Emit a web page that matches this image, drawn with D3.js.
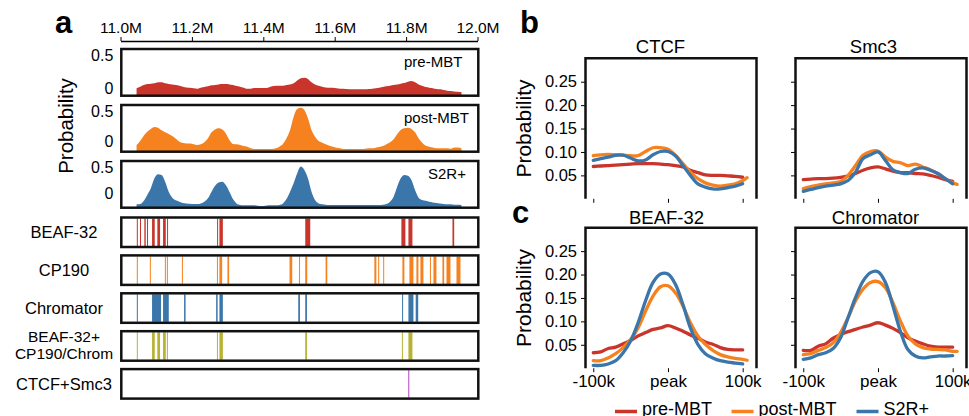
<!DOCTYPE html>
<html>
<head>
<meta charset="utf-8">
<script src="https://cdn.jsdelivr.net/npm/d3@7"></script>
<style>
  body { margin: 0; background: #fff; }
  svg { display: block; font-family: "Liberation Sans", Arial, Helvetica, sans-serif; }
</style>
</head>
<body>
<div class="display"></div>
<script>
// ---- data: panel a coverage (probability per 10 kb bin, first bin centre 11.045 Mb) ----
const binStart = 11.045;
const binStep = 0.01;
const preMBT = [0.079, 0.096, 0.114, 0.125, 0.129, 0.132, 0.143, 0.143, 0.132, 0.125, 0.121, 0.114, 0.107, 0.096, 0.089, 0.086, 0.079, 0.075, 0.086, 0.093, 0.100, 0.111, 0.114, 0.121, 0.125, 0.125, 0.121, 0.114, 0.104, 0.096, 0.086, 0.075, 0.075, 0.082, 0.082, 0.082, 0.082, 0.089, 0.100, 0.107, 0.107, 0.107, 0.114, 0.121, 0.132, 0.164,
  0.186, 0.193, 0.179, 0.143, 0.121, 0.107, 0.096, 0.089, 0.086, 0.086, 0.079, 0.075, 0.075, 0.071, 0.068, 0.068, 0.068, 0.068, 0.068, 0.071, 0.075, 0.079, 0.086, 0.093, 0.100, 0.107, 0.114, 0.121, 0.129, 0.136, 0.150, 0.157, 0.143, 0.121, 0.107, 0.093, 0.086, 0.079, 0.071, 0.068, 0.061, 0.054, 0.050, 0.046, 0.043, 0.039];
const postMBT = [0.071, 0.114, 0.171, 0.214, 0.243, 0.264, 0.257, 0.229, 0.207, 0.189, 0.168, 0.139, 0.107, 0.093, 0.089, 0.089, 0.079, 0.071, 0.079, 0.100, 0.143, 0.207, 0.239, 0.250, 0.239, 0.196, 0.125, 0.082, 0.079, 0.071, 0.061, 0.054, 0.036, 0.029, 0.029, 0.029, 0.029, 0.029, 0.029, 0.036, 0.054, 0.082, 0.143, 0.232, 0.375, 0.457,
  0.471, 0.446, 0.357, 0.232, 0.161, 0.114, 0.096, 0.079, 0.064, 0.054, 0.043, 0.036, 0.029, 0.029, 0.029, 0.029, 0.029, 0.029, 0.032, 0.036, 0.036, 0.043, 0.050, 0.061, 0.079, 0.100, 0.132, 0.186, 0.232, 0.250, 0.257, 0.243, 0.207, 0.143, 0.096, 0.064, 0.054, 0.046, 0.036, 0.036, 0.036, 0.036, 0.032, 0.046, 0.046, 0.036];
const s2rPlus = [0.036, 0.039, 0.071, 0.136, 0.207, 0.314, 0.357, 0.350, 0.279, 0.171, 0.107, 0.079, 0.064, 0.050, 0.046, 0.043, 0.039, 0.039, 0.046, 0.064, 0.100, 0.171, 0.236, 0.271, 0.279, 0.243, 0.171, 0.093, 0.046, 0.029, 0.025, 0.025, 0.025, 0.025, 0.021, 0.018, 0.021, 0.025, 0.025, 0.025, 0.029, 0.046, 0.093, 0.171, 0.261, 0.368,
  0.440, 0.404, 0.314, 0.171, 0.082, 0.046, 0.036, 0.032, 0.029, 0.029, 0.029, 0.029, 0.029, 0.029, 0.029, 0.029, 0.029, 0.029, 0.029, 0.029, 0.029, 0.029, 0.029, 0.032, 0.039, 0.064, 0.118, 0.225, 0.314, 0.350, 0.343, 0.296, 0.189, 0.107, 0.082, 0.075, 0.064, 0.057, 0.050, 0.046, 0.039, 0.036, 0.036, 0.032, 0.032, 0.029];
const genomeTicks = [11.0, 11.2, 11.4, 11.6, 11.8, 12.0];

// ---- data: panel a binding peaks [start, end] in Mb ----
const beafPeaks = [[11.0457, 11.0485], [11.0546, 11.0574], [11.0668, 11.0707], [11.0743, 11.0771], [11.0884, 11.0959], [11.1032, 11.1108], [11.1192, 11.1268], [11.1304, 11.1332], [11.2706, 11.2734], [11.2771, 11.2867], [11.5175, 11.5315], [11.7868, 11.7980], [11.8065, 11.8177], [11.9299, 11.9347]];
const cp190Peaks = [[11.0457, 11.0485], [11.0822, 11.0850], [11.1243, 11.1271], [11.1299, 11.1327], [11.1720, 11.1748], [11.2701, 11.2729], [11.2771, 11.2847], [11.2996, 11.3043], [11.4735, 11.4811], [11.5001, 11.5029], [11.5175, 11.5231], [11.5745, 11.5792], [11.7111, 11.7167], [11.7218, 11.7246], [11.7358, 11.7386], [11.7896, 11.7952], [11.8093, 11.8205], [11.8289, 11.8345], [11.8401, 11.8485], [11.8668, 11.8696], [11.8766, 11.8850], [11.9018, 11.9066], [11.9131, 11.9243], [11.9411, 11.9523]];
const chromatorPeaks = [[11.0457, 11.0485], [11.0884, 11.1136], [11.1192, 11.1352], [11.1781, 11.1823], [11.2679, 11.2721], [11.2771, 11.2867], [11.4979, 11.5027], [11.5175, 11.5223], [11.7888, 11.7916], [11.8065, 11.8205], [11.8269, 11.8339]];
const comboPeaks = [[11.0457, 11.0485], [11.0884, 11.0959], [11.1032, 11.1108], [11.1192, 11.1268], [11.1299, 11.1327], [11.2701, 11.2729], [11.2771, 11.2867], [11.5175, 11.5223], [11.7882, 11.7910], [11.8065, 11.8177]];
const ctcfSmc3Peaks = [[11.8061, 11.8083]];

// ---- data: panels b, c aggregate profiles around peaks (kb) ----
const profileX = [-100, -90, -80, -70, -60, -50, -40, -30, -20, -10, 0, 10, 20, 30, 40, 50, 60, 70, 80, 90, 100, 106];
const ctcfPre  = [0.069, 0.070, 0.071, 0.072, 0.073, 0.074, 0.075, 0.075, 0.075, 0.074, 0.073, 0.071, 0.068, 0.061, 0.056, 0.051, 0.050, 0.050, 0.049, 0.048, 0.046, null];
const ctcfPost = [0.092, 0.094, 0.095, 0.094, 0.093, 0.092, 0.092, 0.101, 0.109, 0.109, 0.106, 0.093, 0.075, 0.057, 0.043, 0.034, 0.029, 0.027, 0.029, 0.032, 0.039, 0.045];
const ctcfS2r  = [0.082, 0.086, 0.089, 0.093, 0.093, 0.087, 0.081, 0.083, 0.094, 0.101, 0.101, 0.092, 0.071, 0.050, 0.032, 0.025, 0.021, 0.021, 0.024, 0.027, 0.032, null];
const smc3Pre  = [0.041, 0.042, 0.043, 0.043, 0.044, 0.046, 0.049, 0.054, 0.061, 0.066, 0.068, 0.064, 0.059, 0.056, 0.056, 0.054, 0.053, 0.050, 0.046, 0.041, 0.037, null];
const smc3Post = [0.022, 0.026, 0.029, 0.032, 0.034, 0.037, 0.050, 0.071, 0.093, 0.101, 0.102, 0.089, 0.080, 0.077, 0.071, 0.074, 0.068, 0.062, 0.054, 0.043, 0.034, 0.031];
const smc3S2r  = [0.016, 0.020, 0.024, 0.027, 0.029, 0.032, 0.039, 0.057, 0.086, 0.094, 0.100, 0.082, 0.062, 0.056, 0.054, 0.063, 0.066, 0.061, 0.054, 0.043, 0.032, null];
const beafPre  = [0.033, 0.035, 0.042, 0.045, 0.052, 0.059, 0.069, 0.076, 0.083, 0.086, 0.091, 0.086, 0.079, 0.071, 0.064, 0.056, 0.051, 0.044, 0.040, 0.039, 0.039, null];
const beafPost = [0.016, 0.016, 0.022, 0.031, 0.044, 0.061, 0.086, 0.122, 0.154, 0.174, 0.176, 0.161, 0.133, 0.097, 0.069, 0.051, 0.038, 0.029, 0.024, 0.021, 0.019, 0.017];
const beafS2r  = [0.006, 0.006, 0.009, 0.016, 0.033, 0.058, 0.097, 0.144, 0.183, 0.201, 0.201, 0.179, 0.136, 0.086, 0.051, 0.031, 0.022, 0.016, 0.013, 0.011, 0.009, null];
const chromPre  = [0.038, 0.038, 0.047, 0.052, 0.064, 0.072, 0.078, 0.083, 0.088, 0.092, 0.097, 0.092, 0.085, 0.076, 0.065, 0.058, 0.052, 0.047, 0.045, 0.045, 0.045, null];
const chromPost = [0.029, 0.031, 0.038, 0.044, 0.054, 0.076, 0.108, 0.144, 0.169, 0.183, 0.185, 0.172, 0.140, 0.101, 0.069, 0.052, 0.044, 0.041, 0.040, 0.039, 0.036, 0.036];
const chromS2r  = [0.019, 0.022, 0.029, 0.033, 0.042, 0.065, 0.108, 0.151, 0.186, 0.204, 0.206, 0.183, 0.133, 0.079, 0.040, 0.026, 0.022, 0.024, 0.026, 0.026, 0.027, null];
const profileYTicks = [0.05, 0.10, 0.15, 0.20, 0.25];
const profileXTicks = [-100, 0, 100];
const legendNames = ['pre-MBT', 'post-MBT', 'S2R+'];

const colors = { pre: '#c9352b', post: '#f5811f', s2r: '#3a76a9', combo: '#b7b233', ctcf: '#b33fc6' };

const config = {
  width: 969,
  height: 416,
  genome: { x0: 120.5, x1: 477.5, axisY: 41, boxLeft: 121.3, boxRight: 478.3 },
  coverage: { top: 49, step: 56, height: 46.7, zeroLift: [2, 5, 9] },
  peaks: { top: 217.5, step: 37.9, height: 29.5, labelX: 64 },
  profile: {
    cols: [585.5, 795.5], width: 171,
    rows: [58.3, 227.7], height: 140.5,
    xDomain: [-110.4, 118.5], yDomain: [0, 0.30]
  }
};

let svg;

function setupSvg() {
  svg = d3.select('.display')
    .append('svg')
    .attr('width', config.width)
    .attr('height', config.height);

  [['a', 55, 33], ['b', 520, 33], ['c', 512, 223]].forEach(([t, x, y]) => {
    svg.append('text')
      .attr('x', x).attr('y', y)
      .attr('font-size', 31).attr('font-weight', 'bold')
      .text(t);
  });
}

function styleAxis(g, size) {
  g.attr('font-family', null).attr('font-size', size);
  g.selectAll('text').attr('fill', '#000');
  g.selectAll('line').attr('stroke', '#000');
}

function drawCoverage() {
  const g = config.genome;
  const x = d3.scaleLinear().domain([11.0, 12.0]).range([g.x0, g.x1]);

  const axis = svg.append('g')
    .attr('transform', `translate(0, ${g.axisY})`)
    .call(d3.axisTop(x).tickValues(genomeTicks).tickFormat(d => d.toFixed(1) + 'M')
      .tickSize(4).tickSizeOuter(0).tickPadding(4));
  styleAxis(axis, 15.5);
  axis.select('.domain').attr('stroke', '#000').attr('stroke-width', 1.5);

  svg.append('text')
    .attr('transform', `translate(73, 126) rotate(-90)`)
    .attr('text-anchor', 'middle')
    .attr('font-size', 20.5)
    .text('Probability');

  const tracks = [
    { name: 'pre-MBT', values: preMBT, color: colors.pre, labelX: 404 },
    { name: 'post-MBT', values: postMBT, color: colors.post, labelX: 404 },
    { name: 'S2R+', values: s2rPlus, color: colors.s2r, labelX: 428 }
  ];

  tracks.forEach((t, i) => {
    const top = config.coverage.top + i * config.coverage.step;
    const bottom = top + config.coverage.height;
    const y = d3.scaleLinear().domain([0, 0.5]).range([bottom, top]);

    const area = d3.area()
      .x((d, j) => x(binStart + j * binStep))
      .y0(bottom)
      .y1(d => y(d))
      .curve(d3.curveMonotoneX);

    svg.append('path')
      .datum(t.values)
      .attr('fill', t.color)
      .attr('d', area);

    svg.append('rect')
      .attr('x', g.boxLeft).attr('y', top)
      .attr('width', g.boxRight - g.boxLeft).attr('height', config.coverage.height)
      .attr('fill', 'none').attr('stroke', '#111').attr('stroke-width', 2.5);

    const yAxis = svg.append('g')
      .attr('transform', `translate(${g.boxLeft}, 0)`)
      .call(d3.axisLeft(y).tickValues([0, 0.5]).tickFormat(d => d === 0 ? '0' : '0.5')
        .tickSize(0).tickPadding(8));
    styleAxis(yAxis, 16);
    yAxis.select('.domain').remove();
    yAxis.selectAll('.tick text')
      .attr('dy', d => d === 0 ? -config.coverage.zeroLift[i] : '0.72em');

    svg.append('text')
      .attr('x', t.labelX).attr('y', top + 18)
      .attr('font-size', 15)
      .text(t.name);
  });

  return x;
}

function drawPeakTracks(x) {
  const g = config.genome;
  const p = config.peaks;
  const tracks = [
    { label: ['BEAF-32'], peaks: beafPeaks, color: colors.pre },
    { label: ['CP190'], peaks: cp190Peaks, color: colors.post },
    { label: ['Chromator'], peaks: chromatorPeaks, color: colors.s2r },
    { label: ['BEAF-32+', 'CP190/Chrom'], peaks: comboPeaks, color: colors.combo },
    { label: ['CTCF+Smc3'], peaks: ctcfSmc3Peaks, color: colors.ctcf }
  ];

  tracks.forEach((t, i) => {
    const top = p.top + i * p.step;

    svg.append('g').selectAll('rect')
      .data(t.peaks)
      .enter()
      .append('rect')
      .attr('x', d => x(d[0]))
      .attr('width', d => Math.max(1, x(d[1]) - x(d[0])))
      .attr('y', top + 1)
      .attr('height', p.height - 2)
      .attr('fill', t.color);

    svg.append('rect')
      .attr('x', g.boxLeft).attr('y', top)
      .attr('width', g.boxRight - g.boxLeft).attr('height', p.height)
      .attr('fill', 'none').attr('stroke', '#111').attr('stroke-width', 2.5);

    const mid = top + p.height / 2;
    const label = svg.append('text')
      .attr('text-anchor', 'middle')
      .attr('font-size', t.label.length === 1 ? 16.5 : 15.5);
    if (t.label.length === 1) {
      label.append('tspan').attr('x', p.labelX).attr('y', mid + 6).text(t.label[0]);
    } else {
      label.append('tspan').attr('x', p.labelX).attr('y', mid - 3.5).text(t.label[0]);
      label.append('tspan').attr('x', p.labelX).attr('y', mid + 13.5).text(t.label[1]);
    }
  });
}

function drawProfile(col, row, title, titleDx, series, showYLabels, showXLabels) {
  const c = config.profile;
  const x0 = c.cols[col], x1 = x0 + c.width;
  const y0 = c.rows[row], y1 = y0 + c.height;
  const x = d3.scaleLinear().domain(c.xDomain).range([x0, x1]);
  const y = d3.scaleLinear().domain(c.yDomain).range([y1, y0]);

  const line = d3.line()
    .defined(d => d[1] !== null)
    .x(d => x(d[0]))
    .y(d => y(d[1]))
    .curve(d3.curveCatmullRom.alpha(0.5));

  series.forEach(s => {
    svg.append('path')
      .datum(profileX.map((px, i) => [px, s.values[i]]))
      .attr('fill', 'none')
      .attr('stroke', s.color)
      .attr('stroke-width', 3.3)
      .attr('stroke-linecap', 'round')
      .attr('d', line);
  });

  const yAxis = svg.append('g')
    .attr('transform', `translate(${x0}, 0)`)
    .call(d3.axisLeft(y).tickValues(profileYTicks)
      .tickFormat(showYLabels ? d3.format('.2f') : '')
      .tickSize(4.5).tickPadding(4));
  styleAxis(yAxis, 16.5);
  yAxis.select('.domain').remove();

  const xAxis = svg.append('g')
    .attr('transform', `translate(0, ${y1})`)
    .call(d3.axisBottom(x).tickValues(profileXTicks)
      .tickFormat(showXLabels ? (d => d === 0 ? 'peak' : d + 'k') : '')
      .tickSize(4).tickPadding(2.5));
  styleAxis(xAxis, 17);
  xAxis.select('.domain').remove();

  // left, top and right spines only
  svg.append('path')
    .attr('d', `M${x0},${y1}V${y0}H${x1}V${y1}`)
    .attr('fill', 'none')
    .attr('stroke', '#111')
    .attr('stroke-width', 2.5);

  svg.append('text')
    .attr('x', x0 + titleDx).attr('y', y0 - (row === 0 ? 5 : 4))
    .attr('text-anchor', 'middle')
    .attr('font-size', 18.5)
    .text(title);

  if (showYLabels) {
    svg.append('text')
      .attr('transform', `translate(531, ${(y0 + y1) / 2}) rotate(-90)`)
      .attr('text-anchor', 'middle')
      .attr('font-size', 21)
      .text('Probability');
  }
}

function drawProfiles() {
  const trio = (a, b, d) => [
    { values: a, color: colors.pre },
    { values: b, color: colors.post },
    { values: d, color: colors.s2r }
  ];
  drawProfile(0, 0, 'CTCF', 75, trio(ctcfPre, ctcfPost, ctcfS2r), true, false);
  drawProfile(1, 0, 'Smc3', 78, trio(smc3Pre, smc3Post, smc3S2r), false, false);
  drawProfile(0, 1, 'BEAF-32', 81, trio(beafPre, beafPost, beafS2r), true, true);
  drawProfile(1, 1, 'Chromator', 80, trio(chromPre, chromPost, chromS2r), false, true);
}

function drawLegend() {
  const items = [
    { x: 615, color: colors.pre },
    { x: 731.5, color: colors.post },
    { x: 856.5, color: colors.s2r }
  ];
  items.forEach((it, i) => {
    svg.append('line')
      .attr('x1', it.x).attr('x2', it.x + 22)
      .attr('y1', 411.5).attr('y2', 411.5)
      .attr('stroke', it.color).attr('stroke-width', 3.5);
    svg.append('text')
      .attr('x', it.x + 27).attr('y', 414.5)
      .attr('font-size', 18)
      .text(legendNames[i]);
  });
}

window.addEventListener('load', () => {
  setupSvg();
  const x = drawCoverage();
  drawPeakTracks(x);
  drawProfiles();
  drawLegend();
}, false);
</script>
</body>
</html>
